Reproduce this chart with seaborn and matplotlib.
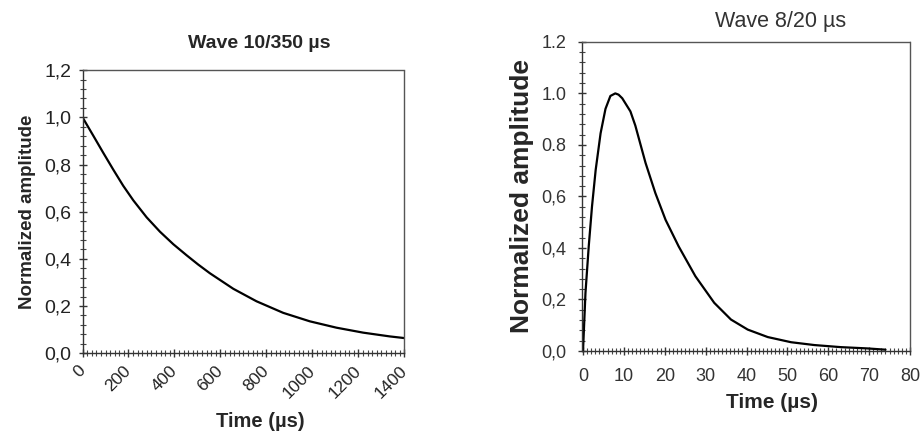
import matplotlib
matplotlib.use("Agg")
import matplotlib.pyplot as plt
from matplotlib.ticker import MultipleLocator, FixedLocator, FixedFormatter
from matplotlib.transforms import ScaledTranslation
import seaborn as sns
import pandas as pd

# Wave 10/350 us
t_10_350 = [0, 47, 90, 134, 177, 221, 279, 337, 395, 453, 503, 554, 656,
            757, 873, 989, 1105, 1221, 1337, 1400]
a_10_350 = [1.0, 0.922, 0.85, 0.778, 0.71, 0.648, 0.576, 0.515, 0.462, 0.415, 0.376, 0.339, 0.273,
            0.22, 0.171, 0.135, 0.108, 0.087, 0.071, 0.064]

# Wave 8/20 us
t_8_20 = [0, 0.6, 1.4, 2.2, 3.1, 4.3, 5.5, 6.7, 7.9, 8.7, 9.6, 11.6, 12.8, 15.3, 17.7,
          20.2, 23.4, 27.5, 32.1, 36.2, 40.3, 45.2, 50.9, 56.6, 63.0, 69.5, 74.0]
a_8_20 = [0.0, 0.225, 0.406, 0.561, 0.703, 0.845, 0.94, 0.99, 1.0, 0.995, 0.981, 0.93, 0.875, 0.73, 0.613,
          0.509, 0.406, 0.29, 0.187, 0.122, 0.083, 0.054, 0.034, 0.023, 0.015, 0.01, 0.005]

left_xticks = [0, 200, 400, 600, 800, 1000, 1200, 1400]
left_yticks = [0.0, 0.2, 0.4, 0.6, 0.8, 1.0, 1.2]
left_ylabels = ["0,0", "0,2", "0,4", "0,6", "0,8", "1,0", "1,2"]
right_xticks = [0, 10, 20, 30, 40, 50, 60, 70, 80]
right_yticks = [0.0, 0.2, 0.4, 0.6, 0.8, 1.0, 1.2]
right_ylabels = ["0,0", "0,2", "0,4", "0,6", "0.8", "1.0", "1.2"]

sns.set_style("ticks")
plt.rcParams["font.family"] = ["Liberation Sans", "DejaVu Sans"]

df1 = pd.DataFrame({"t": t_10_350, "a": a_10_350})
df2 = pd.DataFrame({"t": t_8_20, "a": a_8_20})

fig = plt.figure(figsize=(9.22, 4.36), dpi=100)
ax1 = fig.add_axes([0.0895, 0.190, 0.349, 0.649])
ax2 = fig.add_axes([0.631, 0.195, 0.356, 0.709])

def style_axes(ax):
    for side in ["left", "bottom"]:
        ax.spines[side].set_color("#333333")
        ax.spines[side].set_linewidth(1.0)
    for side in ["top", "right"]:
        ax.spines[side].set_visible(True)
        ax.spines[side].set_color("#555555")
        ax.spines[side].set_linewidth(1.0)
        ax.spines[side].set_linestyle((0, (2, 1)))
    ax.tick_params(which="major", direction="inout", length=6, width=1, color="#333333")
    ax.tick_params(which="minor", direction="inout", length=4, width=0.8, color="#444444")

# left chart
sns.lineplot(data=df1, x="t", y="a", ax=ax1, color="black", linewidth=1.6)
ax1.set_xlim(0, 1400)
ax1.set_ylim(0, 1.2)
ax1.xaxis.set_major_locator(FixedLocator(left_xticks))
ax1.xaxis.set_minor_locator(MultipleLocator(20))
ax1.yaxis.set_major_locator(FixedLocator(left_yticks))
ax1.yaxis.set_major_formatter(FixedFormatter(left_ylabels))
ax1.yaxis.set_minor_locator(MultipleLocator(0.04))
style_axes(ax1)
ax1.tick_params(axis="y", labelsize=14, labelcolor="#222222", pad=5)
ax1.tick_params(axis="x", labelsize=12.5, labelcolor="#222222", pad=4)
shift = ScaledTranslation(-0.05, 0, fig.dpi_scale_trans)
for lab in ax1.get_xticklabels():
    lab.set_rotation(45)
    lab.set_ha("right")
    lab.set_rotation_mode("anchor")
    lab.set_transform(lab.get_transform() + shift)
ax1.set_title("Wave 10/350 µs", fontsize=14, fontweight="bold", pad=16, x=0.548)
ax1.set_xlabel("Time (µs)", fontsize=14.5, fontweight="bold", labelpad=8, x=0.554)
ax1.set_ylabel("Normalized amplitude", fontsize=13.5, fontweight="bold", labelpad=6)

# right chart
sns.lineplot(data=df2, x="t", y="a", ax=ax2, color="black", linewidth=1.6)
ax2.set_xlim(-0.3, 80)
ax2.set_ylim(0, 1.2)
ax2.xaxis.set_major_locator(FixedLocator(right_xticks))
ax2.xaxis.set_minor_locator(MultipleLocator(1))
ax2.yaxis.set_major_locator(FixedLocator(right_yticks))
ax2.yaxis.set_major_formatter(FixedFormatter(right_ylabels))
ax2.yaxis.set_minor_locator(MultipleLocator(0.04))
style_axes(ax2)
ax2.tick_params(axis="both", labelsize=13, labelcolor="#333333")
ax2.tick_params(axis="x", pad=9)
ax2.tick_params(axis="y", pad=8)
ax2.set_title("Wave 8/20 µs", fontsize=15.5, color="#333333", pad=11, x=0.605)
ax2.set_xlabel("Time (µs)", fontsize=15, fontweight="bold", labelpad=6, x=0.578)
ax2.set_ylabel("Normalized amplitude", fontsize=19, fontweight="bold", labelpad=5)

fig.savefig("out.png", dpi=100, facecolor="white")
